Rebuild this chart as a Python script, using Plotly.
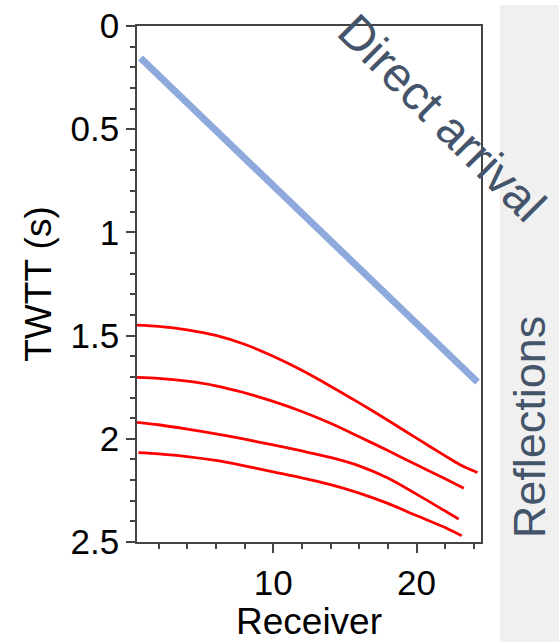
import plotly.graph_objects as go

# Direct arrival (straight line)
direct_x = [0.75, 24.25]
direct_t = [0.155, 1.725]

# Reflection hyperbolae (receiver, TWTT in s)
r1_x = [0.5, 2, 4, 6, 8, 10, 12, 14, 16, 18, 20, 22, 23, 24.25]
r1_t = [1.449, 1.455, 1.472, 1.499, 1.542, 1.600, 1.668, 1.745, 1.826, 1.910, 1.997, 2.083, 2.124, 2.163]
r2_x = [0.5, 2, 4, 6, 8, 10, 12, 14, 16, 18, 20, 22, 23.3]
r2_t = [1.702, 1.707, 1.721, 1.743, 1.777, 1.819, 1.868, 1.925, 1.990, 2.057, 2.126, 2.194, 2.239]
r3_x = [0.5, 2, 4, 6, 8, 10, 12, 14, 16, 18, 20, 22, 22.95]
r3_t = [1.920, 1.932, 1.953, 1.976, 2.002, 2.030, 2.059, 2.090, 2.131, 2.190, 2.268, 2.350, 2.389]
r4_x = [0.6, 2, 4, 6, 8, 10, 12, 14, 16, 18, 20, 22, 23.15]
r4_t = [2.067, 2.073, 2.086, 2.105, 2.131, 2.160, 2.189, 2.222, 2.263, 2.313, 2.372, 2.430, 2.470]

reflections = [(r1_x, r1_t), (r2_x, r2_t), (r3_x, r3_t), (r4_x, r4_t)]

x_title = "Receiver"
y_title = "TWTT (s)"
direct_label = "Direct arrival"
refl_label = "Reflections"

FONT = "Liberation Sans, Arial, sans-serif"
AXC = "#444444"
LABC = "#44546A"

fig = go.Figure()
fig.add_trace(go.Scatter(x=direct_x, y=direct_t, mode="lines",
                         line=dict(color="#8EA9DB", width=7), showlegend=False))
for rx, rt in reflections:
    fig.add_trace(go.Scatter(x=rx, y=rt, mode="lines", line_shape="spline",
                             line=dict(color="#FF0000", width=2.8, smoothing=0.8),
                             showlegend=False))

# Grey side panel
fig.add_shape(type="rect", xref="paper", yref="paper",
              x0=1.055, x1=1.25, y0=-0.25, y1=1.0407,
              fillcolor="#F0F0F0", line=dict(width=0), layer="below")

fig.add_annotation(text=direct_label, xref="paper", yref="paper",
                   x=0.885, y=0.822, xanchor="center", yanchor="middle",
                   showarrow=False, textangle=45,
                   font=dict(family=FONT, size=48, color=LABC))
fig.add_annotation(text=refl_label, xref="paper", yref="paper",
                   x=1.142, y=0.224, xanchor="center", yanchor="middle",
                   showarrow=False, textangle=-90,
                   font=dict(family=FONT, size=45, color=LABC))

axis_common = dict(showline=True, linecolor=AXC, linewidth=1.5, mirror=True,
                   ticks="outside", ticklen=9, tickwidth=1.5, tickcolor=AXC,
                   showgrid=False, zeroline=False,
                   tickfont=dict(family=FONT, size=35, color="black"))

fig.update_xaxes(range=[0.5, 24.5], dtick=10, tick0=0,
                 minor=dict(dtick=2, ticks="outside", ticklen=5, tickcolor=AXC, tickwidth=1.5, showgrid=False),
                 title=dict(text=x_title, font=dict(family=FONT, size=37, color="black"), standoff=0),
                 **axis_common)
fig.update_yaxes(range=[2.5, 0], dtick=0.5, tick0=0,
                 minor=dict(dtick=0.1, ticks="outside", ticklen=5, tickcolor=AXC, tickwidth=1.5, showgrid=False),
                 title=dict(text=y_title, font=dict(family=FONT, size=37, color="black"), standoff=8),
                 **axis_common)

fig.update_layout(width=559, height=642,
                  margin=dict(l=137, r=78, t=26, b=100, autoexpand=False),
                  plot_bgcolor="white", paper_bgcolor="white")

fig.write_html("out.html")
